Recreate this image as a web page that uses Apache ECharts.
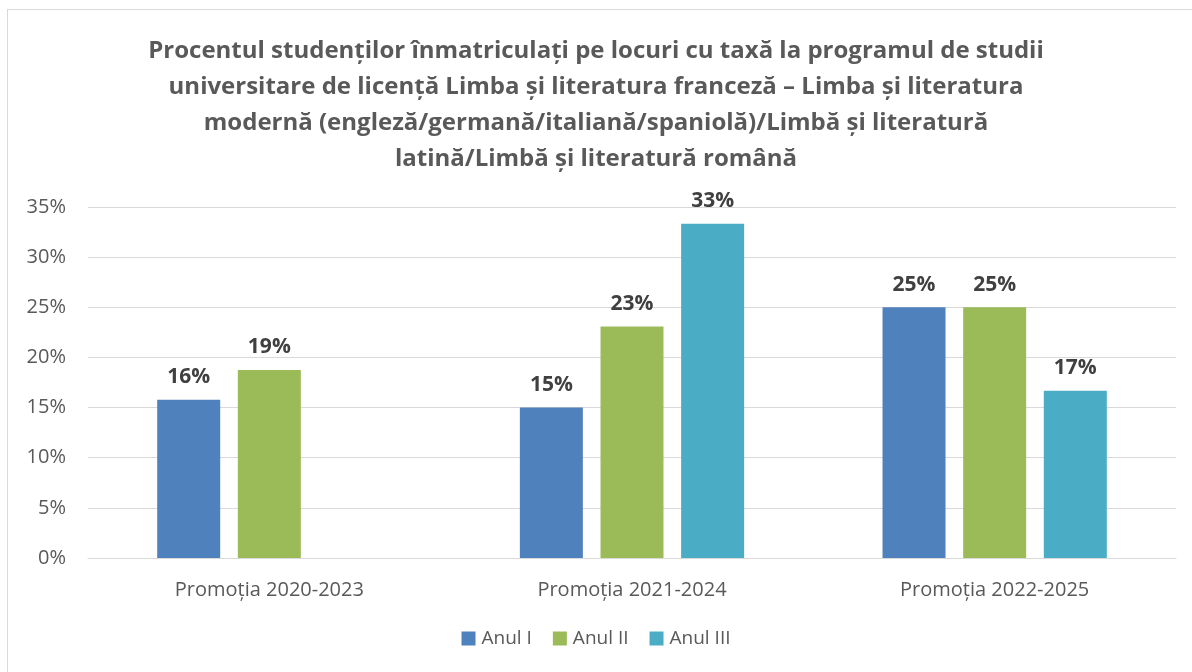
<!DOCTYPE html>
<html>
<head>
<meta charset="utf-8">
<script src="https://cdn.jsdelivr.net/npm/echarts@6/dist/echarts.min.js"></script>
<style>
  html, body { margin: 0; padding: 0; background: #fff; }
  #main { width: 1192px; height: 672px; }
  #frame { position: absolute; left: 7px; top: 9px; width: 1200px; height: 700px; border: 1px solid #d9d9d9; pointer-events: none; }
</style>
</head>
<body>
<div id="main"></div>
<div id="frame"></div>
<script>
var categories = ['Promoția 2020-2023', 'Promoția 2021-2024', 'Promoția 2022-2025'];
var anul1 = [15.79, 15.0, 25.0];
var anul2 = [18.75, 23.08, 25.0];
var anul3 = [null, 33.33, 16.67];
var seriesNames = ['Anul I', 'Anul II', 'Anul III'];
var colors = ['#4f81bd', '#9bbb59', '#4bacc6'];

var titleText = 'Procentul studenților înmatriculați pe locuri cu taxă la programul de studii\n' +
  'universitare de licență Limba și literatura franceză – Limba și literatura\n' +
  'modernă (engleză/germană/italiană/spaniolă)/Limbă și literatură\n' +
  'latină/Limbă și literatură română';

var font = 'Open Sans';

var myChart = echarts.init(document.getElementById('main'));

function makeSeries(name, data) {
    return {
        name: name,
        type: 'bar',
        data: data,
        barWidth: 63,
        barGap: '28%',
        label: {
            show: true,
            position: 'top',
            distance: 12,
            fontFamily: font,
            fontWeight: 'bold',
            fontSize: 21,
            color: '#404040',
            formatter: function (p) { return Math.round(p.value) + '%'; }
        }
    };
}

option = {
    color: colors,
    animation: false,
    title: {
        text: titleText,
        left: 'center',
        top: 28,
        textStyle: {
            fontFamily: font,
            fontWeight: 'bold',
            fontSize: 24,
            lineHeight: 36,
            color: '#595959'
        }
    },
    grid: { left: 88, right: 16, top: 207, bottom: 114 },
    legend: {
        bottom: 19,
        left: 'center',
        itemWidth: 14,
        itemHeight: 14,
        itemGap: 21,
        icon: 'rect',
        textStyle: { fontFamily: font, fontSize: 19, color: '#595959', padding: [0, 0, 0, 1] },
        data: seriesNames
    },
    xAxis: {
        type: 'category',
        data: categories,
        axisTick: { show: false },
        axisLine: { lineStyle: { color: '#d9d9d9', width: 1 } },
        axisLabel: { fontFamily: font, fontSize: 20, color: '#595959', margin: 22 }
    },
    yAxis: {
        type: 'value',
        min: 0,
        max: 35,
        interval: 5,
        axisLabel: { fontFamily: font, fontSize: 20, color: '#595959', margin: 22, formatter: '{value}%' },
        splitLine: { lineStyle: { color: '#d9d9d9', width: 1 } }
    },
    series: [
        makeSeries(seriesNames[0], anul1),
        makeSeries(seriesNames[1], anul2),
        makeSeries(seriesNames[2], anul3)
    ]
};
myChart.setOption(option);
</script>
</body>
</html>
